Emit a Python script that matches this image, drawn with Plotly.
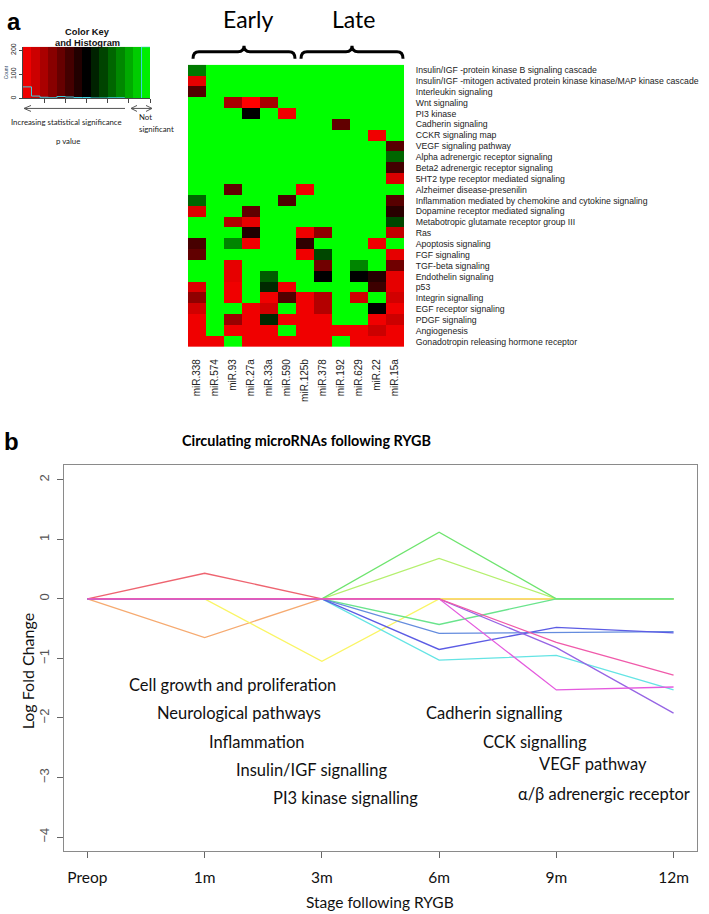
import numpy as np
import plotly.graph_objects as go

W, H = 709, 914

# ---------------- Panel a data ----------------
mirnas = ["miR.338", "miR.574", "miR.93", "miR.27a", "miR.33a", "miR.590",
          "miR.125b", "miR.378", "miR.192", "miR.629", "miR.22", "miR.15a"]
pathways = [
    "Insulin/IGF -protein kinase B signaling cascade",
    "Insulin/IGF -mitogen activated protein kinase kinase/MAP kinase cascade",
    "Interleukin signaling",
    "Wnt signaling",
    "PI3 kinase",
    "Cadherin signaling",
    "CCKR signaling map",
    "VEGF signaling pathway",
    "Alpha adrenergic receptor signaling",
    "Beta2 adrenergic receptor signaling",
    "5HT2 type receptor mediated signaling",
    "Alzheimer disease-presenilin",
    "Inflammation mediated by chemokine and cytokine signaling",
    "Dopamine receptor mediated signaling",
    "Metabotropic glutamate receptor group III",
    "Ras",
    "Apoptosis signaling",
    "FGF signaling",
    "TGF-beta signaling",
    "Endothelin signaling",
    "p53",
    "Integrin signalling",
    "EGF receptor signaling",
    "PDGF signaling",
    "Angiogenesis",
    "Gonadotropin releasing hormone receptor",
]
# scaled p value: 0 = most significant (red), 0.5 = black, 1 = not significant (green)
pval_scaled = [
    [0.74, 1, 1, 1, 1, 1, 1, 1, 1, 1, 1, 1],
    [0.05, 1, 1, 1, 1, 1, 1, 1, 1, 1, 1, 1],
    [0.34, 1, 1, 1, 1, 1, 1, 1, 1, 1, 1, 1],
    [1, 1, 0.17, 0.0, 0.17, 1, 1, 1, 1, 1, 1, 1],
    [1, 1, 1, 0.5, 1, 0.03, 1, 1, 1, 1, 1, 1],
    [1, 1, 1, 1, 1, 1, 1, 1, 0.31, 1, 1, 1],
    [1, 1, 1, 1, 1, 1, 1, 1, 1, 1, 0.03, 1],
    [1, 1, 1, 1, 1, 1, 1, 1, 1, 1, 1, 0.33],
    [1, 1, 1, 1, 1, 1, 1, 1, 1, 1, 1, 0.70],
    [1, 1, 1, 1, 1, 1, 1, 1, 1, 1, 1, 0.37],
    [1, 1, 1, 1, 1, 1, 1, 1, 1, 1, 1, 0.07],
    [1, 1, 0.31, 1, 1, 1, 0.03, 1, 1, 1, 1, 1],
    [0.70, 1, 1, 1, 1, 0.35, 1, 1, 1, 1, 1, 0.33],
    [0.07, 1, 1, 0.31, 1, 1, 1, 1, 1, 1, 1, 0.42],
    [1, 1, 0.15, 0.05, 1, 1, 1, 1, 1, 1, 1, 0.64],
    [1, 1, 1, 0.44, 1, 1, 0.03, 0.22, 1, 1, 1, 0.12],
    [0.36, 1, 0.76, 0.03, 1, 1, 0.41, 1, 1, 1, 0.03, 1],
    [0.31, 1, 1, 1, 1, 1, 0.03, 0.64, 1, 1, 1, 0.05],
    [1, 1, 0.05, 1, 1, 1, 1, 0.28, 1, 0.76, 1, 0.28],
    [1, 1, 0.05, 1, 0.68, 1, 1, 0.5, 1, 0.5, 0.43, 0.05],
    [0.07, 1, 0.03, 1, 0.58, 0.03, 1, 1, 1, 1, 0.38, 0.05],
    [0.22, 1, 0.03, 1, 0.03, 0.34, 0.03, 0.15, 1, 0.09, 1, 0.09],
    [0.09, 1, 1, 0.03, 0.09, 1, 0.03, 0.15, 1, 1, 0.5, 0.03],
    [0.03, 1, 0.2, 0.03, 0.58, 0.03, 0.03, 0.03, 1, 1, 0.03, 0.1],
    [0.03, 1, 0.03, 0.03, 0.03, 1, 0.03, 0.03, 0.03, 0.03, 0.1, 0.03],
    [0.03, 0.03, 1, 0.03, 0.03, 0.03, 0.03, 0.03, 1, 0.03, 0.03, 0.03],
]
key_bins = 15

# ---------------- Panel b data ----------------
stages = ["Preop", "1m", "3m", "6m", "9m", "12m"]
lfc_red = [0, 0.43, 0, 0, 0, 0]
lfc_orange = [0, -0.65, 0, 0, 0, 0]
lfc_yellow = [0, 0, -1.05, 0, 0, 0]
lfc_yellowgreen = [0, 0, 0, 0.68, 0, 0]
lfc_green = [0, 0, 0, 1.12, 0, 0]
lfc_teal = [0, 0, 0, -0.43, 0, 0]
lfc_cyan = [0, 0, 0, -1.03, -0.95, -1.53]
lfc_azure = [0, 0, 0, -0.58, -0.57, -0.55]
lfc_blue = [0, 0, 0, -0.85, -0.48, -0.57]
lfc_violet = [0, 0, 0, 0, -0.82, -1.92]
lfc_magenta = [0, 0, 0, 0, -1.53, -1.48]
lfc_rose = [0, 0, 0, 0, -0.73, -1.28]
pathway_labels_left = ["Cell growth and proliferation", "Neurological pathways",
                       "Inflammation", "Insulin/IGF signalling", "PI3 kinase signalling"]
pathway_labels_right = ["Cadherin signalling", "CCK signalling", "VEGF pathway",
                        "α/β adrenergic receptor"]

# ---------------- styling ----------------
ARIAL = "Liberation Sans, Arial, sans-serif"
CAL = "Lato, Open Sans, sans-serif"
sig_scale = [[0, "#FF0000"], [0.5, "#000000"], [1, "#00FF00"]]
series = [
    (lfc_red, "rgb(238,100,112)"),
    (lfc_orange, "rgb(246,170,112)"),
    (lfc_yellow, "rgb(250,245,100)"),
    (lfc_yellowgreen, "rgb(180,240,110)"),
    (lfc_green, "rgb(110,228,110)"),
    (lfc_teal, "rgb(105,228,140)"),
    (lfc_cyan, "rgb(100,228,228)"),
    (lfc_azure, "rgb(100,140,222)"),
    (lfc_blue, "rgb(92,92,228)"),
    (lfc_violet, "rgb(150,100,228)"),
    (lfc_magenta, "rgb(228,90,222)"),
    (lfc_rose, "rgb(240,90,170)"),
]


def px(x):
    return x / W


def py(y):
    return 1 - y / H


fig = go.Figure()

# heatmap
nrow, ncol = len(pathways), len(mirnas)
fig.add_trace(go.Heatmap(z=pval_scaled, x=list(range(ncol)), y=list(range(nrow)),
                         colorscale=sig_scale, zmin=0, zmax=1, showscale=False,
                         xaxis="x", yaxis="y", hoverinfo="skip"))

# color key + histogram
z_flat = np.array(pval_scaled, dtype=float).ravel()
edges = np.linspace(0, 1, key_bins + 1)
counts, _ = np.histogram(z_flat, bins=edges)
centers = (edges[:-1] + edges[1:]) / 2
fig.add_trace(go.Heatmap(z=[centers.tolist()], x=edges.tolist(), y=[0, 214],
                         colorscale=sig_scale, zmin=0, zmax=1, showscale=False,
                         xaxis="x2", yaxis="y2", hoverinfo="skip"))
fig.add_trace(go.Scatter(x=edges.tolist(), y=counts.tolist() + [int(counts[-1])],
                         mode="lines", line=dict(color="rgb(60,210,225)", width=1, shape="hv"),
                         xaxis="x2", yaxis="y2", hoverinfo="skip"))

# line chart
xs = list(range(len(stages)))
for vals, col in series:
    fig.add_trace(go.Scatter(x=xs, y=vals, mode="lines", line=dict(color=col, width=1.3),
                             xaxis="x3", yaxis="y3", hoverinfo="skip"))

hm_left, hm_right, hm_top, hm_bottom = 188, 404, 61, 345
ax_common = dict(showgrid=False, zeroline=False)
fig.update_layout(
    width=W, height=H, margin=dict(l=0, r=0, t=0, b=0),
    paper_bgcolor="white", plot_bgcolor="white", showlegend=False,
    xaxis=dict(domain=[px(hm_left), px(hm_right)], anchor="y", range=[-0.5, ncol - 0.5],
               tickvals=list(range(ncol)), ticktext=mirnas, tickangle=-90,
               tickfont=dict(family=ARIAL, size=10, color="#222"),
               ticks="outside", ticklen=7, tickcolor="rgba(0,0,0,0)", showline=False, **ax_common),
    yaxis=dict(domain=[py(hm_bottom), py(hm_top)], anchor="x", side="right",
               range=[nrow - 0.5, -0.5], tickvals=list(range(nrow)), ticktext=pathways,
               tickfont=dict(family=ARIAL, size=8.7, color="#222"),
               ticks="outside", ticklen=9, tickcolor="rgba(0,0,0,0)", showline=False, **ax_common),
    xaxis2=dict(domain=[px(23), px(150)], anchor="y2", range=[0, 1],
                tickvals=[k / 6 for k in range(1, 7)], showticklabels=False,
                ticks="outside", ticklen=4, tickcolor="#444", showline=True, linecolor="#444",
                linewidth=1, **ax_common),
    yaxis2=dict(domain=[py(95), py(43)], anchor="x2", range=[0, 214],
                tickvals=[0, 100, 200], tickangle=-90, ticks="outside", ticklen=3,
                tickcolor="#444", tickfont=dict(family=ARIAL, size=7, color="#222"),
                showline=True, linecolor="#444", linewidth=1,
                title=dict(text="Count", font=dict(family=ARIAL, size=5), standoff=1), **ax_common),
    xaxis3=dict(domain=[px(64), px(697)], anchor="y3", range=[-0.2, 5.2],
                tickvals=xs, ticktext=stages, ticks="outside", ticklen=6, tickcolor="#666",
                tickfont=dict(family=CAL, size=15.5, color="#111"), ticklabelstandoff=6,
                showline=True, mirror=True, linecolor="#8a8a8a", linewidth=1, **ax_common),
    yaxis3=dict(domain=[py(852), py(464)], anchor="x3", range=[-4.24, 2.24],
                tickvals=[-4, -3, -2, -1, 0, 1, 2], tickangle=-90, ticks="outside", ticklen=6,
                tickcolor="#666", tickfont=dict(family=ARIAL, size=13, color="#555"),
                ticklabelstandoff=3,
                showline=True, mirror=True, linecolor="#8a8a8a", linewidth=1, **ax_common),
)

ann = []


def text(x, y, s, size, family=CAL, color="#111", xanchor="center", angle=0, ref="paper"):
    ann.append(dict(x=x, y=y, xref=ref, yref=ref if ref == "paper" else ref.replace("x", "y"),
                    text=s, showarrow=False, xanchor=xanchor, yanchor="middle",
                    textangle=angle, font=dict(family=family, size=size, color=color)))


text(px(14), py(18), "<b>a</b>", 24, family=ARIAL, color="#000")
text(px(11), py(440), "<b>b</b>", 24, family=ARIAL, color="#000")
text(px(248), py(15), "Early", 23, color="#000")
text(px(353), py(15), "Late", 23, color="#000")
text(px(87), py(28), "<b>Color Key</b>", 9.3, family=ARIAL, color="#111")
text(px(87), py(39), "<b>and Histogram</b>", 9.3, family=ARIAL, color="#111")
text(px(66), py(119), "Increasing statistical significance", 7.8, color="#222")
text(px(137), py(114), "Not", 7.8, color="#222", xanchor="left")
text(px(137), py(126), "significant", 7.8, color="#222", xanchor="left")
text(px(68), py(138), "p value", 7.8, color="#222")
text(px(306), py(439), "<b>Circulating microRNAs following RYGB</b>", 14.4, color="#000")
text(px(380), py(903), "Stage following RYGB", 15.5, color="#111")
text(px(27), py(671), "Log Fold Change", 16, color="#111", angle=-90)

# pathway labels inside line chart (data coordinates)
left_pos = [(1.24, -1.45), (1.29, -1.92), (1.44, -2.40), (1.91, -2.88), (2.20, -3.35)]
right_pos = [(3.47, -1.92), (3.82, -2.40), (4.31, -2.78), (4.41, -3.27)]
for s, (x, y) in zip(pathway_labels_left + pathway_labels_right, left_pos + right_pos):
    text(x, y, s, 16.5, color="#111", ref="x3")

fig.update_layout(annotations=ann)

# shapes: braces and key arrows
shapes = []


def brace(xa, xb, y_end=55, y_bar=48, y_tip=42, r=6):
    xm = (xa + xb) / 2
    pts = (f"M {px(xa)},{py(y_end)} Q {px(xa)},{py(y_bar)} {px(xa + r)},{py(y_bar)} "
           f"L {px(xm - r)},{py(y_bar)} Q {px(xm)},{py(y_bar)} {px(xm)},{py(y_tip)} "
           f"Q {px(xm)},{py(y_bar)} {px(xm + r)},{py(y_bar)} L {px(xb - r)},{py(y_bar)} "
           f"Q {px(xb)},{py(y_bar)} {px(xb)},{py(y_end)}")
    shapes.append(dict(type="path", path=pts, xref="paper", yref="paper",
                       line=dict(color="#000", width=3)))


colw = (hm_right - hm_left) / ncol
brace(hm_left + 5, hm_left + 6 * colw - 1)
brace(hm_left + 6 * colw + 5, hm_right - 1)


def seg(x0, y0, x1, y1, color="#555", width=1):
    shapes.append(dict(type="line", x0=px(x0), y0=py(y0), x1=px(x1), y1=py(y1),
                       xref="paper", yref="paper", line=dict(color=color, width=width)))


seg(24, 105, 125, 105)
seg(24, 105, 31, 102)
seg(24, 105, 31, 108)
seg(131, 105, 152, 105)
seg(131, 105, 137, 102)
seg(131, 105, 137, 108)
seg(152, 105, 146, 102)
seg(152, 105, 146, 108)
fig.update_layout(shapes=shapes)

# remove the default page margin so the figure fills the window exactly
fig.write_html("out.html", config={"displayModeBar": False},
               post_script="document.body.style.margin='0px';document.body.style.overflow='hidden';")
